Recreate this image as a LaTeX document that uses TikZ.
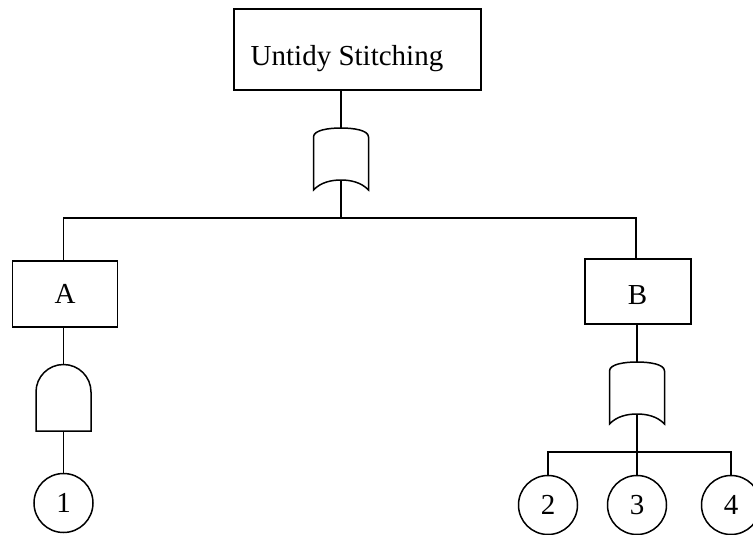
\documentclass[tikz,border=0pt]{standalone}
\usepackage{fontspec}
\setmainfont{Liberation Serif}
\begin{document}
\begin{tikzpicture}[x=1pt,y=-1pt,line width=1.5pt,
  box/.style={draw,rectangle,inner sep=0pt},
  txt/.style={anchor=base,inner sep=0pt,font=\fontsize{29}{34}\selectfont},
  event/.style={draw,circle,minimum size=59pt,inner sep=0pt,font=\fontsize{29}{34}\selectfont},
  orgate/.pic={
    \draw (-27.5,9) .. controls (-27.5,2) and (-12,0) .. (0,0)
          .. controls (12,0) and (27.5,2) .. (27.5,9) -- (27.5,62)
          .. controls (20,54) and (9,52) .. (0,52)
          .. controls (-9,52) and (-20,54) .. (-27.5,62) -- cycle;
    \coordinate (-top) at (0,0);
    \coordinate (-bot) at (0,52);
  },
  andgate/.pic={
    \draw (-27.5,67) -- (-27.5,28) arc[start angle=180,end angle=0,radius=27.5pt] -- (27.5,67) -- cycle;
    \coordinate (-top) at (0,0.5);
    \coordinate (-bot) at (0,67);
  }]
\useasboundingbox (0,0) rectangle (753,535);

\node[box,minimum width=247pt,minimum height=81pt] (top) at (357.5,49.5) {};
\node[txt] (toptxt) at (347,65.5) {Untidy Stitching};
\node[box,minimum width=105pt,minimum height=66pt] (A) at (65,294) {};
\node[txt] (Atxt) at (65,303) {A};
\node[box,minimum width=106pt,minimum height=65pt] (B) at (638,291.5) {};
\node[txt] (Btxt) at (637.5,304) {B};

\pic (g1) at (341,128) {orgate};
\pic (g2) at (63.5,364) {andgate};
\pic (g3) at (637,362) {orgate};

\node[event] (e1) at (63.5,503) {1};
\node[event] (e2) at (548,505) {2};
\node[event] (e3) at (637,505) {3};
\node[event] (e4) at (731,505) {4};

\coordinate (busL) at (63.5,218);
\coordinate (busR) at (636,218);
\coordinate (busM) at (341,218);
\coordinate (bus2L) at (548,452);
\coordinate (bus2R) at (731,452);
\coordinate (bus2M) at (637,452);

\draw (g1-top |- top.south) -- (g1-top);
\draw (g1-bot) -- (busM);
\draw (A.north -| busL) -- (busL) -- (busR) -- (B.north -| busR);
\draw (A.south -| g2-top) -- (g2-top);
\draw (g2-bot) -- (e1.north);
\draw (B.south -| g3-top) -- (g3-top);
\draw (g3-bot) -- (bus2M);
\draw (e2.north) -- (bus2L) -- (bus2R) -- (e4.north);
\draw (bus2M) -- (e3.north);
\end{tikzpicture}
\end{document}
